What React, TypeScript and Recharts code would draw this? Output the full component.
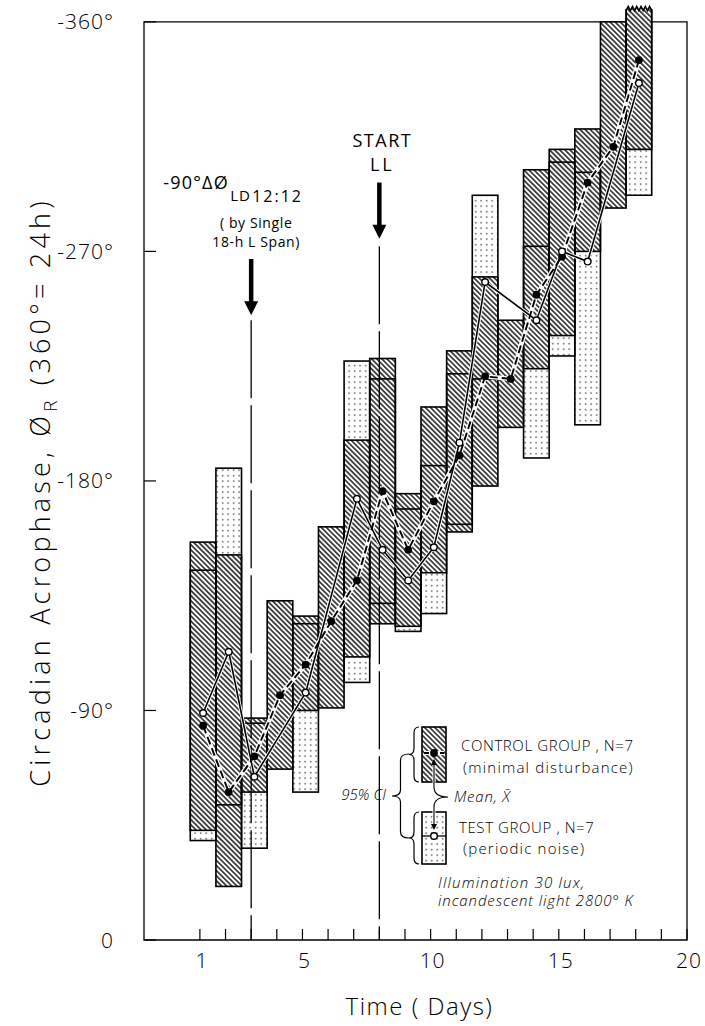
import React from "react";
import {
  ComposedChart,
  Bar,
  Line,
  XAxis,
  YAxis,
  ReferenceLine,
  ReferenceArea,
  ReferenceDot,
} from "recharts";

// each estimate is taken at 03:00 of the day
const days = [
  1.125, 2.125, 3.125, 4.125, 5.125, 6.125, 7.125, 8.125, 9.125,
  10.125, 11.125, 12.125, 13.125, 14.125, 15.125, 16.125, 17.125, 18.125,
];

// control group (minimal disturbance): 95% CI limits and mean acrophase, degrees
const ctlLow = [-43, -21, -58, -67, -90, -91, -111, -124, -123, -144, -160, -178, -201, -224, -237, -270, -287, -310];
const ctlHigh = [-156, -151, -87, -133, -127, -162, -196, -228, -175, -209, -231, -260, -243, -302, -310, -318, -360, -366];
const ctlMean = [-84, -58, -72, -96, -108, -125, -141, -176, -153, -172, -190, -221, -220, -253, -268, -297, -311, -345];

// test group (periodic noise); no estimate on days 4, 6, 13 and 17
const tstLow = [-39, -53, -36, null, -58, null, -101, -132, -121, -128, -163, -220, null, -189, -229, -202, null, -292];
const tstHigh = [-145, -185, -85, null, -124, null, -227, -220, -169, -186, -222, -292, null, -272, -305, -301, null, -365];
const tstMean = [-89, -113, -64, null, -97, null, -173, -153, -141, -154, -195, -258, null, -243, -270, -266, null, -336];

const yTicks = [0, -90, -180, -270, -360];
const xTicks = [1, 2, 3, 4, 5, 6, 7, 8, 9, 10, 11, 12, 13, 14, 15, 16, 17, 18, 19, 20];
const xLabelled = [1, 5, 10, 15, 20];

const FRAME_TOP = -360;
const X_DOMAIN: [number, number] = [-1.18, 20];
const Y_DOMAIN: [number, number] = [-367, 0];

const rows = days.map((day, i) => ({
  day,
  ctlCI: [ctlLow[i], ctlHigh[i]],
  tstCI: tstLow[i] == null ? null : [tstLow[i], tstHigh[i]],
  ctlMean: ctlMean[i],
  tstMean: tstMean[i],
}));

const FONT = "'Open Sans', 'DejaVu Sans', sans-serif";
const INK = "#000";

const box = (p: any) => {
  const top = Math.min(p.y, p.y + p.height);
  return { x: p.x, top, w: p.width, h: Math.abs(p.height) };
};

const DotBox = (p: any) => {
  if (!p.height) return null;
  const b = box(p);
  return <rect x={b.x} y={b.top} width={b.w} height={b.h} fill="url(#dots)" />;
};

// control CI box; a box running past the frame gets a torn top edge
const HatchBox = (p: any) => {
  if (!p.height) return null;
  const b = box(p);
  const torn = p.payload && p.payload.ctlCI[1] < FRAME_TOP;
  if (!torn) {
    return <rect x={b.x} y={b.top} width={b.w} height={b.h} fill="url(#hatch)" stroke={INK} strokeWidth={1.6} />;
  }
  const n = 6;
  let d = `M${b.x},${b.top + b.h} L${b.x},${b.top + 4}`;
  for (let i = 1; i <= n; i++) {
    const px = b.x + (b.w * i) / n;
    d += ` L${px - b.w / (2 * n)},${b.top} L${px},${b.top + 4}`;
  }
  d += ` L${b.x + b.w},${b.top + b.h} Z`;
  return <path d={d} fill="url(#hatch)" stroke={INK} strokeWidth={1.6} />;
};

// test CI outline, drawn over the hatching
const EdgeBox = (p: any) => {
  if (!p.height) return null;
  const b = box(p);
  const open = p.payload && p.payload.tstCI && p.payload.tstCI[1] < FRAME_TOP;
  if (open) {
    const d = `M${b.x},${b.top} L${b.x},${b.top + b.h} L${b.x + b.w},${b.top + b.h} L${b.x + b.w},${b.top}`;
    return <path d={d} fill="none" stroke={INK} strokeWidth={1.6} />;
  }
  return <rect x={b.x} y={b.top} width={b.w} height={b.h} fill="none" stroke={INK} strokeWidth={1.6} />;
};

const FilledDot = (p: any) =>
  p.cy == null ? <g key={p.index} /> : <circle key={p.index} cx={p.cx} cy={p.cy} r={3.9} fill={INK} />;

const OpenDot = (p: any) =>
  p.cy == null ? (
    <g key={p.index} />
  ) : (
    <circle key={p.index} cx={p.cx} cy={p.cy} r={3.3} fill="#fff" stroke={INK} strokeWidth={1.4} />
  );

const DayTick = ({ x, y, payload }: any) => (
  <g>
    <line x1={x} y1={y} x2={x} y2={y - 11} stroke={INK} strokeWidth={1.2} />
    {xLabelled.includes(payload.value) && (
      <text x={x + 2} y={y + 28} textAnchor="middle" fontSize={21} letterSpacing={1} fontFamily={FONT} fontWeight={300} fill={INK}>
        {payload.value}
      </text>
    )}
  </g>
);

const DegTick = ({ x, y, payload }: any) => (
  <g>
    <line x1={x} y1={y} x2={x + 12} y2={y} stroke={INK} strokeWidth={1.2} />
    <text x={x - 30} y={y} dy="0.36em" textAnchor="end" fontSize={21} letterSpacing={1} fontFamily={FONT} fontWeight={300} fill={INK}>
      {payload.value === 0 ? "0" : `-${Math.abs(payload.value)}°`}
    </text>
  </g>
);

const YTitle = ({ viewBox }: any) => {
  const cx = viewBox.x + 50;
  const cy = viewBox.y + viewBox.height / 2 + 20;
  return (
    <text
      x={cx}
      y={cy}
      transform={`rotate(-90 ${cx} ${cy})`}
      textAnchor="middle"
      fontSize={27}
      letterSpacing={4.2}
      fontFamily={FONT}
      fontWeight={300}
      fill={INK}
    >
      Circadian Acrophase, Ø
      <tspan fontSize={19} dy={7}>R</tspan>
      <tspan dy={-7}> (360°= 24h)</tspan>
    </text>
  );
};

const XTitle = ({ viewBox }: any) => (
  <text
    x={viewBox.x + viewBox.width / 2 + 4}
    y={viewBox.y + 75}
    textAnchor="middle"
    fontSize={24}
    letterSpacing={1.5}
    fontFamily={FONT}
    fontWeight={300}
    fill={INK}
  >
    Time ( Days)
  </text>
);

// arrow markers: shaft top, head base, tip, start of the dashed guide
const shiftArrow = { day: 3, top: -267, base: -250, tip: -245, guide: -243 };
const llArrow = { day: 8, top: -297, base: -279, tip: -275, guide: -272 };

const Head = ({ cx, cy }: any) => (
  <path d={`M${cx - 7},${cy - 14} L${cx + 7},${cy - 14} L${cx},${cy} Z`} fill={INK} />
);

const txt = { fontFamily: FONT, fontWeight: 400, fill: INK } as const;

const ShiftCaption = ({ cx, cy }: any) => (
  <g>
    <text x={cx - 88} y={cy - 70} fontSize={18} letterSpacing={1.2} {...txt}>-90°ΔØ</text>
    <text x={cx - 21} y={cy - 58} fontSize={15} letterSpacing={1} {...txt}>LD</text>
    <text x={cx + 1} y={cy - 57} fontSize={16} letterSpacing={2} {...txt}>12:12</text>
    <text x={cx + 5} y={cy - 31} fontSize={14} textAnchor="middle" letterSpacing={0.6} {...txt}>( by Single</text>
    <text x={cx + 5} y={cy - 12} fontSize={14} textAnchor="middle" letterSpacing={0.6} {...txt}>18-h L Span)</text>
  </g>
);

const LLCaption = ({ cx, cy }: any) => (
  <g>
    <text x={cx + 3} y={cy - 36} fontSize={18} textAnchor="middle" letterSpacing={1.5} {...txt}>START</text>
    <text x={cx + 3} y={cy - 12} fontSize={18} textAnchor="middle" letterSpacing={3} {...txt}>LL</text>
  </g>
);

const brace = (xr: number, y1: number, y2: number, depth: number) => {
  const m = (y1 + y2) / 2;
  const h = depth / 2;
  const q = Math.min(6, (y2 - y1) / 6);
  return (
    `M${xr},${y1} Q${xr - h},${y1} ${xr - h},${y1 + q} L${xr - h},${m - q} ` +
    `Q${xr - h},${m} ${xr - depth},${m} Q${xr - h},${m} ${xr - h},${m + q} ` +
    `L${xr - h},${y2 - q} Q${xr - h},${y2} ${xr},${y2}`
  );
};

const Patterns = ({ suffix }: { suffix: string }) => (
  <defs>
    <pattern id={`hatch${suffix}`} width="3.6" height="3.6" patternUnits="userSpaceOnUse" patternTransform="rotate(45)">
      <rect width="3.6" height="3.6" fill="#fff" />
      <line x1="0" y1="1.8" x2="3.6" y2="1.8" stroke={INK} strokeWidth="1.35" />
    </pattern>
    <pattern id={`dots${suffix}`} width="5.5" height="5.5" patternUnits="userSpaceOnUse">
      <rect width="5.5" height="5.5" fill="#fff" />
      <rect x="2" y="2" width="1.3" height="1.3" fill="#222" />
    </pattern>
  </defs>
);

const it = { fontFamily: FONT, fontStyle: "italic", fontWeight: 300, fill: INK } as const;
const up = { fontFamily: FONT, fontWeight: 300, fill: INK } as const;

const Key = () => (
  <svg width={705} height={1026} style={{ position: "absolute", left: 0, top: 0, pointerEvents: "none" }}>
    <Patterns suffix="K" />
    <path d={brace(419, 727, 782, 10)} fill="none" stroke={INK} strokeWidth={1.2} />
    <path d={brace(419, 812, 864, 10)} fill="none" stroke={INK} strokeWidth={1.2} />
    <path d={brace(409, 754, 838, 17)} fill="none" stroke={INK} strokeWidth={1.2} />
    <text x={386} y={800} fontSize={15} textAnchor="end" {...it}>95% CI</text>

    <rect x={422} y={727} width={24} height={55} fill="url(#hatchK)" stroke={INK} strokeWidth={1.6} />
    <line x1={424} y1={753} x2={444} y2={753} stroke="#fff" strokeWidth={4} />
    <line x1={424} y1={753} x2={444} y2={753} stroke={INK} strokeWidth={1.8} strokeDasharray="5 3" />
    <circle cx={434} cy={753} r={3.9} fill={INK} />

    <rect x={422} y={812} width={24} height={52} fill="url(#dotsK)" stroke={INK} strokeWidth={1.6} />
    <line x1={422} y1={836} x2={446} y2={836} stroke={INK} strokeWidth={1.3} />
    <circle cx={434} cy={836} r={3.3} fill="#fff" stroke={INK} strokeWidth={1.4} />

    <path d="M434,763 L434,787 Q434,797 448,797 M434,826 L434,807 Q434,797 448,797" fill="none" stroke="#fff" strokeWidth={3} />
    <path d="M434,763 L434,787 Q434,797 448,797 M434,826 L434,807 Q434,797 448,797" fill="none" stroke={INK} strokeWidth={1.1} />
    <path d="M431,765 L434,759 L437,765 Z M431,824 L434,830 L437,824 Z" fill={INK} />
    <text x={454} y={802} fontSize={15} letterSpacing={0.8} {...it}>Mean, X̄</text>

    <text x={461} y={751} fontSize={15} letterSpacing={0.6} {...up}>CONTROL GROUP , N=7</text>
    <text x={463} y={773} fontSize={15} letterSpacing={1.2} {...up}>(minimal disturbance)</text>
    <text x={459} y={833} fontSize={15} letterSpacing={0.6} {...up}>TEST GROUP , N=7</text>
    <text x={463} y={854} fontSize={15} letterSpacing={1.2} {...up}>(periodic noise)</text>

    <text x={438} y={888} fontSize={15} letterSpacing={1.2} {...it}>Illumination 30 lux,</text>
    <text x={438} y={906} fontSize={15} letterSpacing={0.9} {...it}>incandescent light 2800° K</text>
  </svg>
);

const App = () => {
  return (
    <div style={{ position: "absolute", left: 0, top: 0, width: 705, height: 1026, background: "#fff" }}>
      <ComposedChart width={705} height={1026} data={rows} margin={{ top: 4, right: 18, bottom: 0, left: 0 }}>
        <Patterns suffix="" />
        <XAxis
          xAxisId="t"
          type="number"
          dataKey="day"
          domain={X_DOMAIN}
          allowDataOverflow
          ticks={xTicks}
          interval={0}
          tick={<DayTick />}
          tickLine={false}
          axisLine={false}
          tickSize={0}
          tickMargin={0}
          height={86}
          label={<XTitle />}
        />
        <XAxis xAxisId="c" type="number" dataKey="day" domain={X_DOMAIN} allowDataOverflow hide height={0} />
        <XAxis xAxisId="e" type="number" dataKey="day" domain={X_DOMAIN} allowDataOverflow hide height={0} />
        <YAxis
          type="number"
          domain={Y_DOMAIN}
          allowDataOverflow
          reversed
          ticks={yTicks}
          interval={0}
          tick={<DegTick />}
          tickLine={false}
          axisLine={false}
          tickSize={0}
          tickMargin={0}
          width={144}
          label={<YTitle />}
        />

        <ReferenceLine
          xAxisId="t"
          segment={[{ x: shiftArrow.day, y: shiftArrow.guide }, { x: shiftArrow.day, y: 0 }]}
          stroke={INK}
          strokeWidth={1.3}
          strokeDasharray="78 7"
        />
        <ReferenceLine
          xAxisId="t"
          segment={[{ x: llArrow.day, y: llArrow.guide }, { x: llArrow.day, y: 0 }]}
          stroke={INK}
          strokeWidth={1.3}
          strokeDasharray="78 7"
        />

        <Bar xAxisId="t" dataKey="tstCI" barSize={25.6} shape={<DotBox />} isAnimationActive={false} />
        <Bar xAxisId="c" dataKey="ctlCI" barSize={25.6} shape={<HatchBox />} isAnimationActive={false} />
        <Bar xAxisId="e" dataKey="tstCI" barSize={25.6} shape={<EdgeBox />} isAnimationActive={false} />

        <Line xAxisId="t" type="linear" dataKey="ctlMean" stroke="#fff" strokeWidth={4.5} dot={false} activeDot={false} isAnimationActive={false} />
        <Line xAxisId="t" type="linear" dataKey="tstMean" stroke="#fff" strokeWidth={3.5} dot={false} activeDot={false} connectNulls isAnimationActive={false} />
        <Line
          xAxisId="t"
          type="linear"
          dataKey="ctlMean"
          stroke={INK}
          strokeWidth={1.9}
          strokeDasharray="8 4"
          dot={FilledDot}
          activeDot={false}
          isAnimationActive={false}
        />
        <Line
          xAxisId="t"
          type="linear"
          dataKey="tstMean"
          stroke={INK}
          strokeWidth={1.6}
          connectNulls
          dot={OpenDot}
          activeDot={false}
          isAnimationActive={false}
        />

        <ReferenceArea
          xAxisId="t"
          x1={X_DOMAIN[0]}
          x2={X_DOMAIN[1]}
          y1={FRAME_TOP}
          y2={0}
          fill="none"
          fillOpacity={0}
          stroke={INK}
          strokeWidth={1.3}
        />

        <ReferenceLine
          xAxisId="t"
          segment={[{ x: shiftArrow.day, y: shiftArrow.top }, { x: shiftArrow.day, y: shiftArrow.base }]}
          stroke={INK}
          strokeWidth={4.5}
        />
        <ReferenceLine
          xAxisId="t"
          segment={[{ x: llArrow.day, y: llArrow.top }, { x: llArrow.day, y: llArrow.base }]}
          stroke={INK}
          strokeWidth={4.5}
        />
        <ReferenceDot xAxisId="t" x={shiftArrow.day} y={shiftArrow.tip} r={0} shape={<Head />} />
        <ReferenceDot xAxisId="t" x={llArrow.day} y={llArrow.tip} r={0} shape={<Head />} />
        <ReferenceDot xAxisId="t" x={shiftArrow.day} y={shiftArrow.top} r={0} shape={<ShiftCaption />} />
        <ReferenceDot xAxisId="t" x={llArrow.day} y={llArrow.top} r={0} shape={<LLCaption />} />
      </ComposedChart>
      <Key />
    </div>
  );
};

export default App;
